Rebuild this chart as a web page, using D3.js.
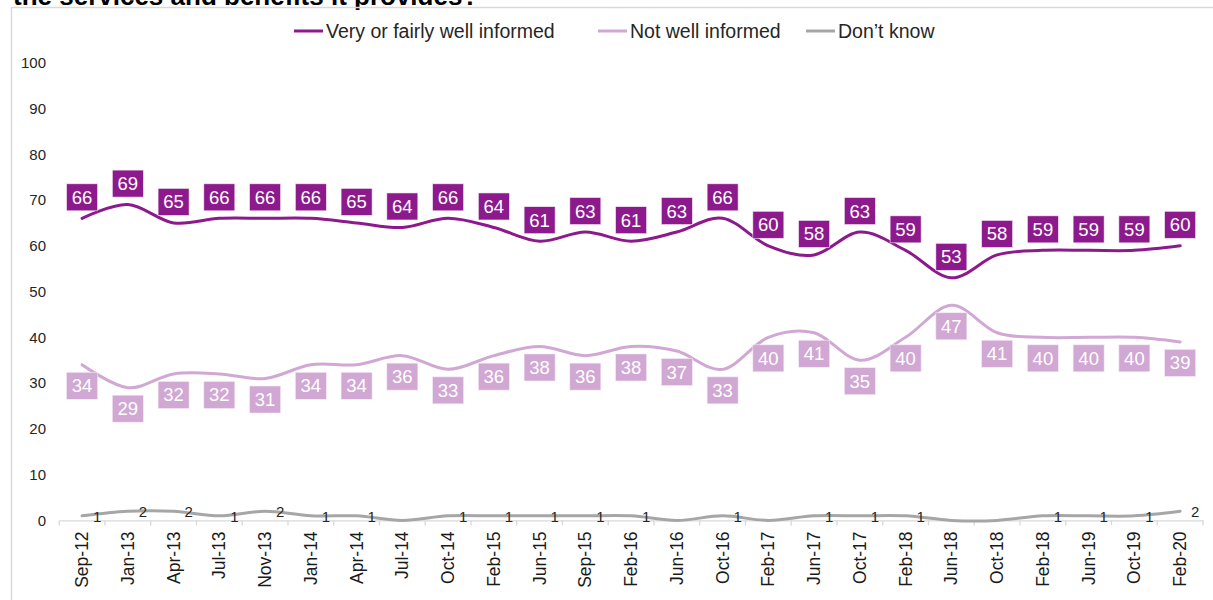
<!DOCTYPE html>
<html>
<head>
<meta charset="utf-8">
<script src="https://cdn.jsdelivr.net/npm/d3@7"></script>
<style>
	body { margin: 0; background: #fff; }
	svg { display: block; font-family: "Liberation Sans", Arial, sans-serif; }
</style>
</head>
<body>
<svg id="chart"></svg>
<script>
const categories = ["Sep-12", "Jan-13", "Apr-13", "Jul-13", "Nov-13", "Jan-14", "Apr-14", "Jul-14", "Oct-14", "Feb-15",
	"Jun-15", "Sep-15", "Feb-16", "Jun-16", "Oct-16", "Feb-17", "Jun-17", "Oct-17", "Feb-18", "Jun-18",
	"Oct-18", "Feb-18", "Jun-19", "Oct-19", "Feb-20"];
const wellInformed = [66, 69, 65, 66, 66, 66, 65, 64, 66, 64, 61, 63, 61, 63, 66, 60, 58, 63, 59, 53, 58, 59, 59, 59, 60];
const notWellInformed = [34, 29, 32, 32, 31, 34, 34, 36, 33, 36, 38, 36, 38, 37, 33, 40, 41, 35, 40, 47, 41, 40, 40, 40, 39];
const dontKnow = [1, 2, 2, 1, 2, 1, 1, 0, 1, 1, 1, 1, 1, 0, 1, 0, 1, 1, 1, 0, 0, 1, 1, 1, 2];
const yTicks = [0, 10, 20, 30, 40, 50, 60, 70, 80, 90, 100];
const seriesNames = ["Very or fairly well informed", "Not well informed", "Don\u2019t know"];

const width = 1213, height = 600;
const svg = d3.select("#chart").attr("width", width).attr("height", height);

const colDark = "#8d1a8d";
const colLight = "#d0a8d3";
const colGrey = "#a6a6a6";

// title (cut off at the top, as in the source)
svg.append("text")
	.attr("x", 13).attr("y", 5)
	.attr("font-size", 26).attr("font-weight", "bold").attr("fill", "#000")
	.text("the services and benefits it provides?");

// chart frame
svg.append("rect")
	.attr("x", 11.5).attr("y", 7.5)
	.attr("width", 1220).attr("height", 620)
	.attr("fill", "none").attr("stroke", "#d9d9d9").attr("stroke-width", 1.5);

const x = d3.scaleBand().domain(d3.range(categories.length)).range([59.2, 1203]);
const y = d3.scaleLinear().domain([0, 100]).range([520.4, 62.7]);
const cx = i => x(i) + x.bandwidth() / 2;

// y axis: labels only
const yAxis = svg.append("g")
	.attr("transform", "translate(59,0)")
	.call(d3.axisLeft(y).tickValues(yTicks).tickSize(0).tickPadding(13));
yAxis.select(".domain").remove();
yAxis.selectAll("text").attr("font-size", 15).attr("fill", "#262626").attr("font-family", null);

// x axis
const xAxis = svg.append("g")
	.attr("transform", "translate(0," + y(0) + ")")
	.call(d3.axisBottom(x).tickFormat(i => categories[i]).tickSize(0).tickPadding(0));
xAxis.select(".domain").attr("stroke", "#d9d9d9").attr("stroke-width", 1.3);
xAxis.selectAll("text")
	.attr("font-size", 17.5).attr("fill", "#1a1a1a").attr("font-family", null)
	.attr("text-anchor", "end")
	.attr("transform", "rotate(-90)")
	.attr("x", -11).attr("y", 0).attr("dy", "0.35em");
xAxis.selectAll(".edge")
	.data(d3.range(categories.length + 1))
	.enter()
	.append("line")
	.attr("x1", i => i < categories.length ? x(i) : x(i - 1) + x.bandwidth())
	.attr("x2", i => i < categories.length ? x(i) : x(i - 1) + x.bandwidth())
	.attr("y1", 0).attr("y2", 5)
	.attr("stroke", "#d9d9d9").attr("stroke-width", 1.3);

// lines
const line = d3.line()
	.x((d, i) => cx(i))
	.y(d => y(d))
	.curve(d3.curveCardinal.tension(0));

[[dontKnow, colGrey], [notWellInformed, colLight], [wellInformed, colDark]].forEach(function(s) {
	svg.append("path")
		.datum(s[0])
		.attr("d", line)
		.attr("fill", "none")
		.attr("stroke", s[1])
		.attr("stroke-width", 3)
		.attr("stroke-linecap", "round");
});

// boxed data labels
function boxLabels(values, color, above) {
	const g = svg.append("g");
	const items = g.selectAll("g")
		.data(values)
		.enter()
		.append("g")
		.attr("transform", function(d, i) {
			const top = above ? y(d) - 7.5 - 27 : y(d) + 7.5;
			return "translate(" + cx(i) + "," + top + ")";
		});
	items.append("rect")
		.attr("x", -15.5).attr("y", 0)
		.attr("width", 31).attr("height", 27)
		.attr("fill", color)
		.attr("stroke", "#f4eaf4").attr("stroke-width", 0.6);
	items.append("text")
		.attr("x", 0).attr("y", 13.5)
		.attr("dy", "0.35em")
		.attr("text-anchor", "middle")
		.attr("font-size", 18.5)
		.attr("fill", "#fff")
		.text(d => d);
}
boxLabels(wellInformed, colDark, true);
boxLabels(notWellInformed, colLight, false);

// don't know labels (zero values are not labelled)
const dkPoints = dontKnow.map((v, i) => ({ v: v, i: i })).filter(d => d.v > 0);
svg.append("g").selectAll("text")
	.data(dkPoints)
	.enter()
	.append("text")
	.attr("x", d => cx(d.i) + 11)
	.attr("y", d => y(d.v) + 1)
	.attr("dy", "0.35em")
	.attr("font-size", 15)
	.attr("fill", "#262626")
	.text(d => d.v);

// legend
const legendItems = [
	{ name: seriesNames[0], color: colDark, x: 294 },
	{ name: seriesNames[1], color: colLight, x: 598 },
	{ name: seriesNames[2], color: colGrey, x: 806 }
];
const legend = svg.append("g").selectAll("g")
	.data(legendItems)
	.enter()
	.append("g")
	.attr("transform", d => "translate(" + d.x + ",31)");
legend.append("line")
	.attr("x1", 0).attr("x2", 29).attr("y1", 0).attr("y2", 0)
	.attr("stroke", d => d.color).attr("stroke-width", 3);
legend.append("text")
	.attr("x", 32).attr("y", 0).attr("dy", "0.35em")
	.attr("font-size", 19.5).attr("fill", "#262626")
	.text(d => d.name);
</script>
</body>
</html>
